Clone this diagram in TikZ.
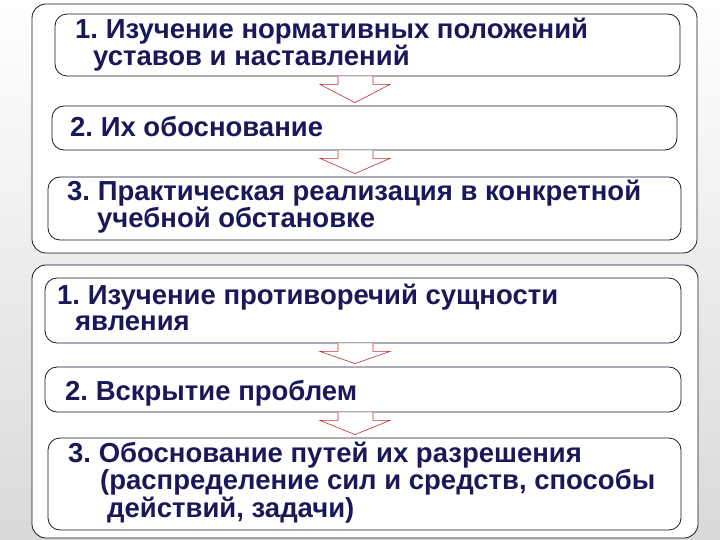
\documentclass[tikz,border=0pt]{standalone}
\usepackage{fontspec}
\setmainfont{Liberation Sans}
\usetikzlibrary{calc,positioning}
\frenchspacing
\definecolor{textnavy}{RGB}{25,25,90}
\definecolor{arrowred}{RGB}{200,45,45}
\definecolor{framenavy}{RGB}{20,25,45}
\tikzset{
    group/.style={draw=framenavy, line width=0.8pt, rounded corners=14pt, fill=white, inner sep=0pt},
    stage/.style={draw=framenavy, line width=0.8pt, rounded corners=12pt, fill=white, inner sep=0pt},
    label/.style={anchor=base west, inner sep=0pt, align=left, text=textnavy,
        font=\bfseries\fontsize{27.5}{25.5}\selectfont},
    flow/.style={draw=arrowred, line width=0.6pt, fill=white}
}
\newcommand{\stagearrow}[2]{%
    \draw[flow] ($(#1.south -| ax)+(-17,0)$) -- ++(0,8) -- ++(-18,0)
        -- ($(#2.north -| ax)+(0,-3)$) -- ($(#1.south -| ax)+(35,8)$)
        -- ++(-17,0) -- ($(#1.south -| ax)+(18,0)$);
}

\begin{document}
\begin{tikzpicture}[x=1pt, y=-1pt]
    \useasboundingbox (0,0) rectangle (720,540);
    \shade[top color=white, bottom color=gray!30] (0,0) rectangle (720,540);
    \coordinate (ax) at (355,0);

    \node[group, minimum width=665pt, minimum height=249pt] (ga) at (364.5,128.5) {};
    \node[group, minimum width=666pt, minimum height=273pt] (gb) at (365,401.5) {};

    \node[stage, minimum width=625pt, minimum height=62pt] (a1) at (367.5,45) {};
    \node[stage, minimum width=625pt, minimum height=44pt] (a2) at (364.5,128) {};
    \node[stage, minimum width=633pt, minimum height=63pt] (a3) at (364.5,208.5) {};
    \node[stage, minimum width=636pt, minimum height=65pt] (b1) at (363,310.5) {};
    \node[stage, minimum width=636pt, minimum height=45pt] (b2) at (363,389.5) {};
    \node[stage, minimum width=633pt, minimum height=92pt] (b3) at (364.5,484) {};

    \stagearrow{a1}{a2}
    \stagearrow{a2}{a3}
    \stagearrow{b1}{b2}
    \stagearrow{b2}{b3}

    % base anchor sits on the last line
    \node[label] (la1) at (75,66) {1. Изучение нормативных положений\\\hspace*{18pt}уставов и наставлений};
    \node[label] (la2) at (70,137) {2. Их обоснование};
    \node[label] (la3) at (67,228) {3. Практическая реализация в конкретной\\\hspace*{30pt}учебной обстановке};
    \node[label] (lb1) at (57,330) {1. Изучение противоречий сущности\\\hspace*{18pt}явления};
    \node[label] (lb2) at (65,400) {2. Вскрытие проблем};
    \node[label] (lb3) at (68,517) {3. Обоснование путей их разрешения\\\hspace*{32pt}(распределение сил и средств, способы\\\hspace*{39pt}действий, задачи)};
\end{tikzpicture}
\end{document}
